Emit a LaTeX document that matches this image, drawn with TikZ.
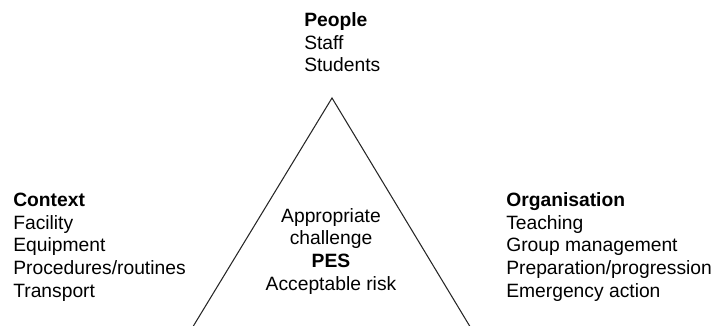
\documentclass[tikz,border=0pt]{standalone}
\usepackage{fontspec}
\setmainfont{Liberation Sans}
\usetikzlibrary{positioning}

\begin{document}
\begin{tikzpicture}[x=0.025cm, y=-0.025cm,
  group/.style={align=left, inner sep=0pt, font=\fontsize{13.7}{16.1}\selectfont},
  core/.style={align=center, inner sep=0pt, font=\fontsize{13.7}{16.1}\selectfont},
  side/.style={line width=0.75pt, color=black!85}
]
\useasboundingbox (0,0) rectangle (714,326);

% the triangle, its base just on the lower edge
\coordinate (apex)  at (332,98);
\coordinate (baseL) at (193,326.6);
\coordinate (baseR) at (470,326.6);
\draw[side, line join=miter] (apex) -- (baseL) -- (baseR) -- cycle;

% the three corners (base = last line)
\node[group, anchor=base west] (people) at (304,72)
  {\textbf{People}\\Staff\\Students};
\node[group, anchor=base west] (context) at (13,297)
  {\textbf{Context}\\Facility\\Equipment\\Procedures/routines\\Transport};
\node[group, anchor=base west] (org) at (506,297)
  {\textbf{Organisation}\\Teaching\\Group management\\Preparation/progression\\Emergency action};

% centre
\node[core, anchor=base] (pes) at (331,290)
  {Appropriate\\challenge\\\textbf{PES}\\Acceptable risk};
\end{tikzpicture}
\end{document}
